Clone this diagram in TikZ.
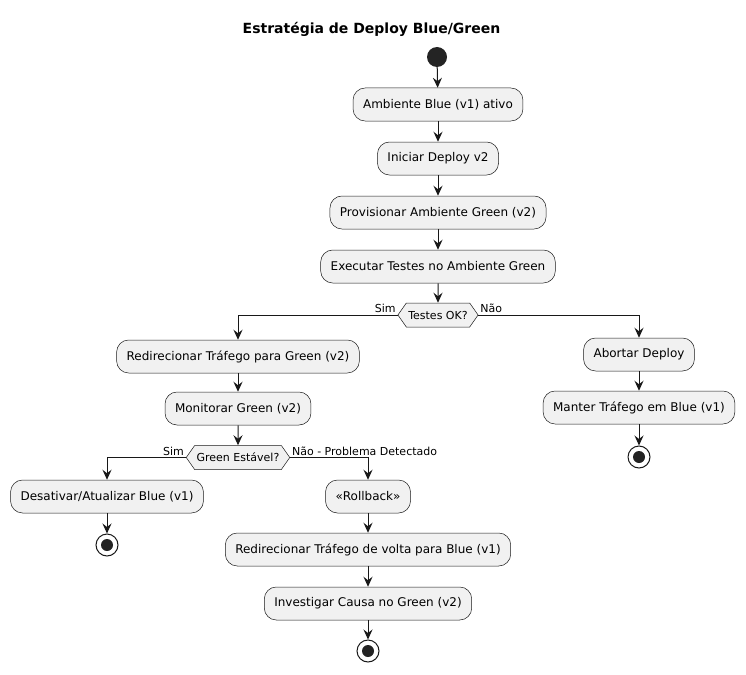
\documentclass[tikz,border=0pt]{standalone}
\usepackage{fontspec}
\setmainfont{DejaVu Sans}
\usetikzlibrary{shapes.symbols,arrows.meta}
\definecolor{boxfill}{HTML}{F1F1F1}
\definecolor{ink}{HTML}{181818}
\tikzstyle{act}=[draw=ink,line width=0.5pt,fill=boxfill,rounded corners=12pt,minimum height=33pt,inner xsep=10pt,font=\fontsize{12pt}{14pt}\selectfont]
\tikzstyle{test}=[draw=ink,line width=0.5pt,fill=boxfill,signal,signal to=east and west,signal pointer angle=110,minimum height=24pt,inner xsep=2pt,inner ysep=2pt,font=\fontsize{11pt}{13pt}\selectfont]
\tikzstyle{flow}=[draw=ink,line width=1pt,-{Stealth[length=10pt,width=9pt,inset=3.5pt]}]
\tikzstyle{lbl}=[font=\fontsize{11pt}{13pt}\selectfont,inner sep=1.5pt]
\tikzstyle{start}=[circle,fill=ink!95,minimum size=20pt,inner sep=0pt]
\tikzstyle{stop}=[circle,draw=ink,line width=1pt,fill=white,minimum size=22pt,inner sep=0pt]

\begin{document}
\begin{tikzpicture}[x=1pt,y=-1pt]
\useasboundingbox (0,0) rectangle (746,674);

\draw (371.5,29) node [font=\bfseries\fontsize{14pt}{16pt}\selectfont] (title) {Estratégia de Deploy Blue/Green};

\draw (437,57) node [start] (init) {};

\draw (438,104.5) node [act] (blue) {Ambiente Blue (v1) ativo};
\draw (438,158.5) node [act] (deploy) {Iniciar Deploy v2};
\draw (438,212.5) node [act] (prov) {Provisionar Ambiente Green (v2)};
\draw (438,266.5) node [act] (exec) {Executar Testes no Ambiente Green};
\draw (438,315) node [test] (tok) {Testes OK?};

\draw (238,356.5) node [act] (redir) {Redirecionar Tráfego para Green (v2)};
\draw (238,408.5) node [act] (mon) {Monitorar Green (v2)};
\draw (238,457.5) node [test] (stable) {Green Estável?};

\draw (639,354.5) node [act] (abort) {Abortar Deploy};
\draw (639,407.5) node [act] (keep) {Manter Tráfego em Blue (v1)};
\draw (639,457) node [stop] (endA) {};

\draw (107,496.5) node [act] (off) {Desativar/Atualizar Blue (v1)};
\draw (107,545) node [stop] (endB) {};

\draw (368,496.5) node [act] (rb) {«Rollback»};
\draw (368,549.5) node [act] (back) {Redirecionar Tráfego de volta para Blue (v1)};
\draw (368,603.5) node [act] (inv) {Investigar Causa no Green (v2)};
\draw (368,651) node [stop] (endC) {};

\foreach \e in {endA,endB,endC}
  \fill [ink!95] (\e) circle (6pt);

% main line
\draw [flow] (init) -- (blue);
\draw [flow] (blue) -- (deploy);
\draw [flow] (deploy) -- (prov);
\draw [flow] (prov) -- (exec);
\draw [flow] (exec) -- (tok);

% tests ok?
\draw [flow] (tok.west) node [lbl,above left] {Sim} -| (redir.north);
\draw [flow] (tok.east) node [lbl,above right] {Não} -| (abort.north);
\draw [flow] (redir) -- (mon);
\draw [flow] (mon) -- (stable);
\draw [flow] (abort) -- (keep);
\draw [flow] (keep) -- (endA);

% green stable?
\draw [flow] (stable.west) node [lbl,above left] {Sim} -| (off.north);
\draw [flow] (stable.east) node [lbl,above right] {Não - Problema Detectado} -| (rb.north);
\draw [flow] (off) -- (endB);
\draw [flow] (rb) -- (back);
\draw [flow] (back) -- (inv);
\draw [flow] (inv) -- (endC);

\end{tikzpicture}
\end{document}
